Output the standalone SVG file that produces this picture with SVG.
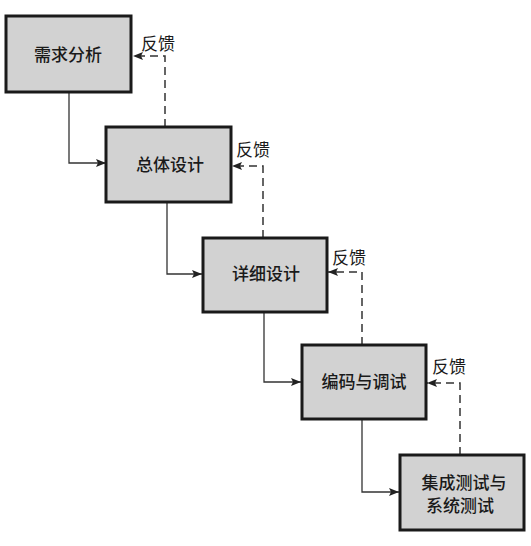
<svg xmlns="http://www.w3.org/2000/svg" width="531" height="546" viewBox="0 0 531 546">
<style>
.box{fill:#d2d2d2;stroke:#1a1a1a;stroke-width:3}
.t{font-family:"Liberation Sans","Noto Sans CJK SC",sans-serif;font-size:17px;font-weight:500;fill:#1a1a1a;text-anchor:middle;dominant-baseline:central}
.fb{font-family:"Liberation Sans","Noto Sans CJK SC",sans-serif;font-size:17px;fill:#1a1a1a;text-anchor:middle;dominant-baseline:central}
.flow{fill:none;stroke:#333;stroke-width:1.3}
.dash{fill:none;stroke:#333;stroke-width:1.5;stroke-dasharray:8 5}
</style>
<defs>
<marker id="ah" markerWidth="10" markerHeight="8" refX="10" refY="4" orient="auto" markerUnits="userSpaceOnUse">
<path d="M0,0 L10,4 L0,8 L2,4 Z" fill="#222"/>
</marker>
</defs>
<rect width="531" height="546" fill="#fff"/>
<g id="connectors">
<path class="flow" d="M69,92 V163 H106" marker-end="url(#ah)"/>
<path class="flow" d="M167,202 V274 H202" marker-end="url(#ah)"/>
<path class="flow" d="M264,312 V382 H301" marker-end="url(#ah)"/>
<path class="flow" d="M362,419 V492 H399" marker-end="url(#ah)"/>
<path class="dash" d="M165,127 V56 H133" marker-end="url(#ah)"/>
<path class="dash" d="M263,238 V166 H232" marker-end="url(#ah)"/>
<path class="dash" d="M362,345 V272 H328" marker-end="url(#ah)"/>
<path class="dash" d="M460,455 V383 H427" marker-end="url(#ah)"/>
<text class="fb" x="158" y="44">反馈</text>
<text class="fb" x="253" y="150">反馈</text>
<text class="fb" x="349" y="258">反馈</text>
<text class="fb" x="449" y="367">反馈</text>
</g>
<g id="n1"><rect class="box" x="6" y="16" width="125" height="76"/><text class="t" x="68" y="55">需求分析</text></g>
<g id="n2"><rect class="box" x="106" y="127" width="125" height="75"/><text class="t" x="170" y="165">总体设计</text></g>
<g id="n3"><rect class="box" x="203" y="238" width="124" height="74"/><text class="t" x="266" y="274">详细设计</text></g>
<g id="n4"><rect class="box" x="302" y="345" width="124" height="74"/><text class="t" x="364" y="382">编码与调试</text></g>
<g id="n5"><rect class="box" x="400" y="455" width="124" height="75"/><text class="t" x="464" y="483">集成测试与</text><text class="t" x="460" y="506">系统测试</text></g>
</svg>
